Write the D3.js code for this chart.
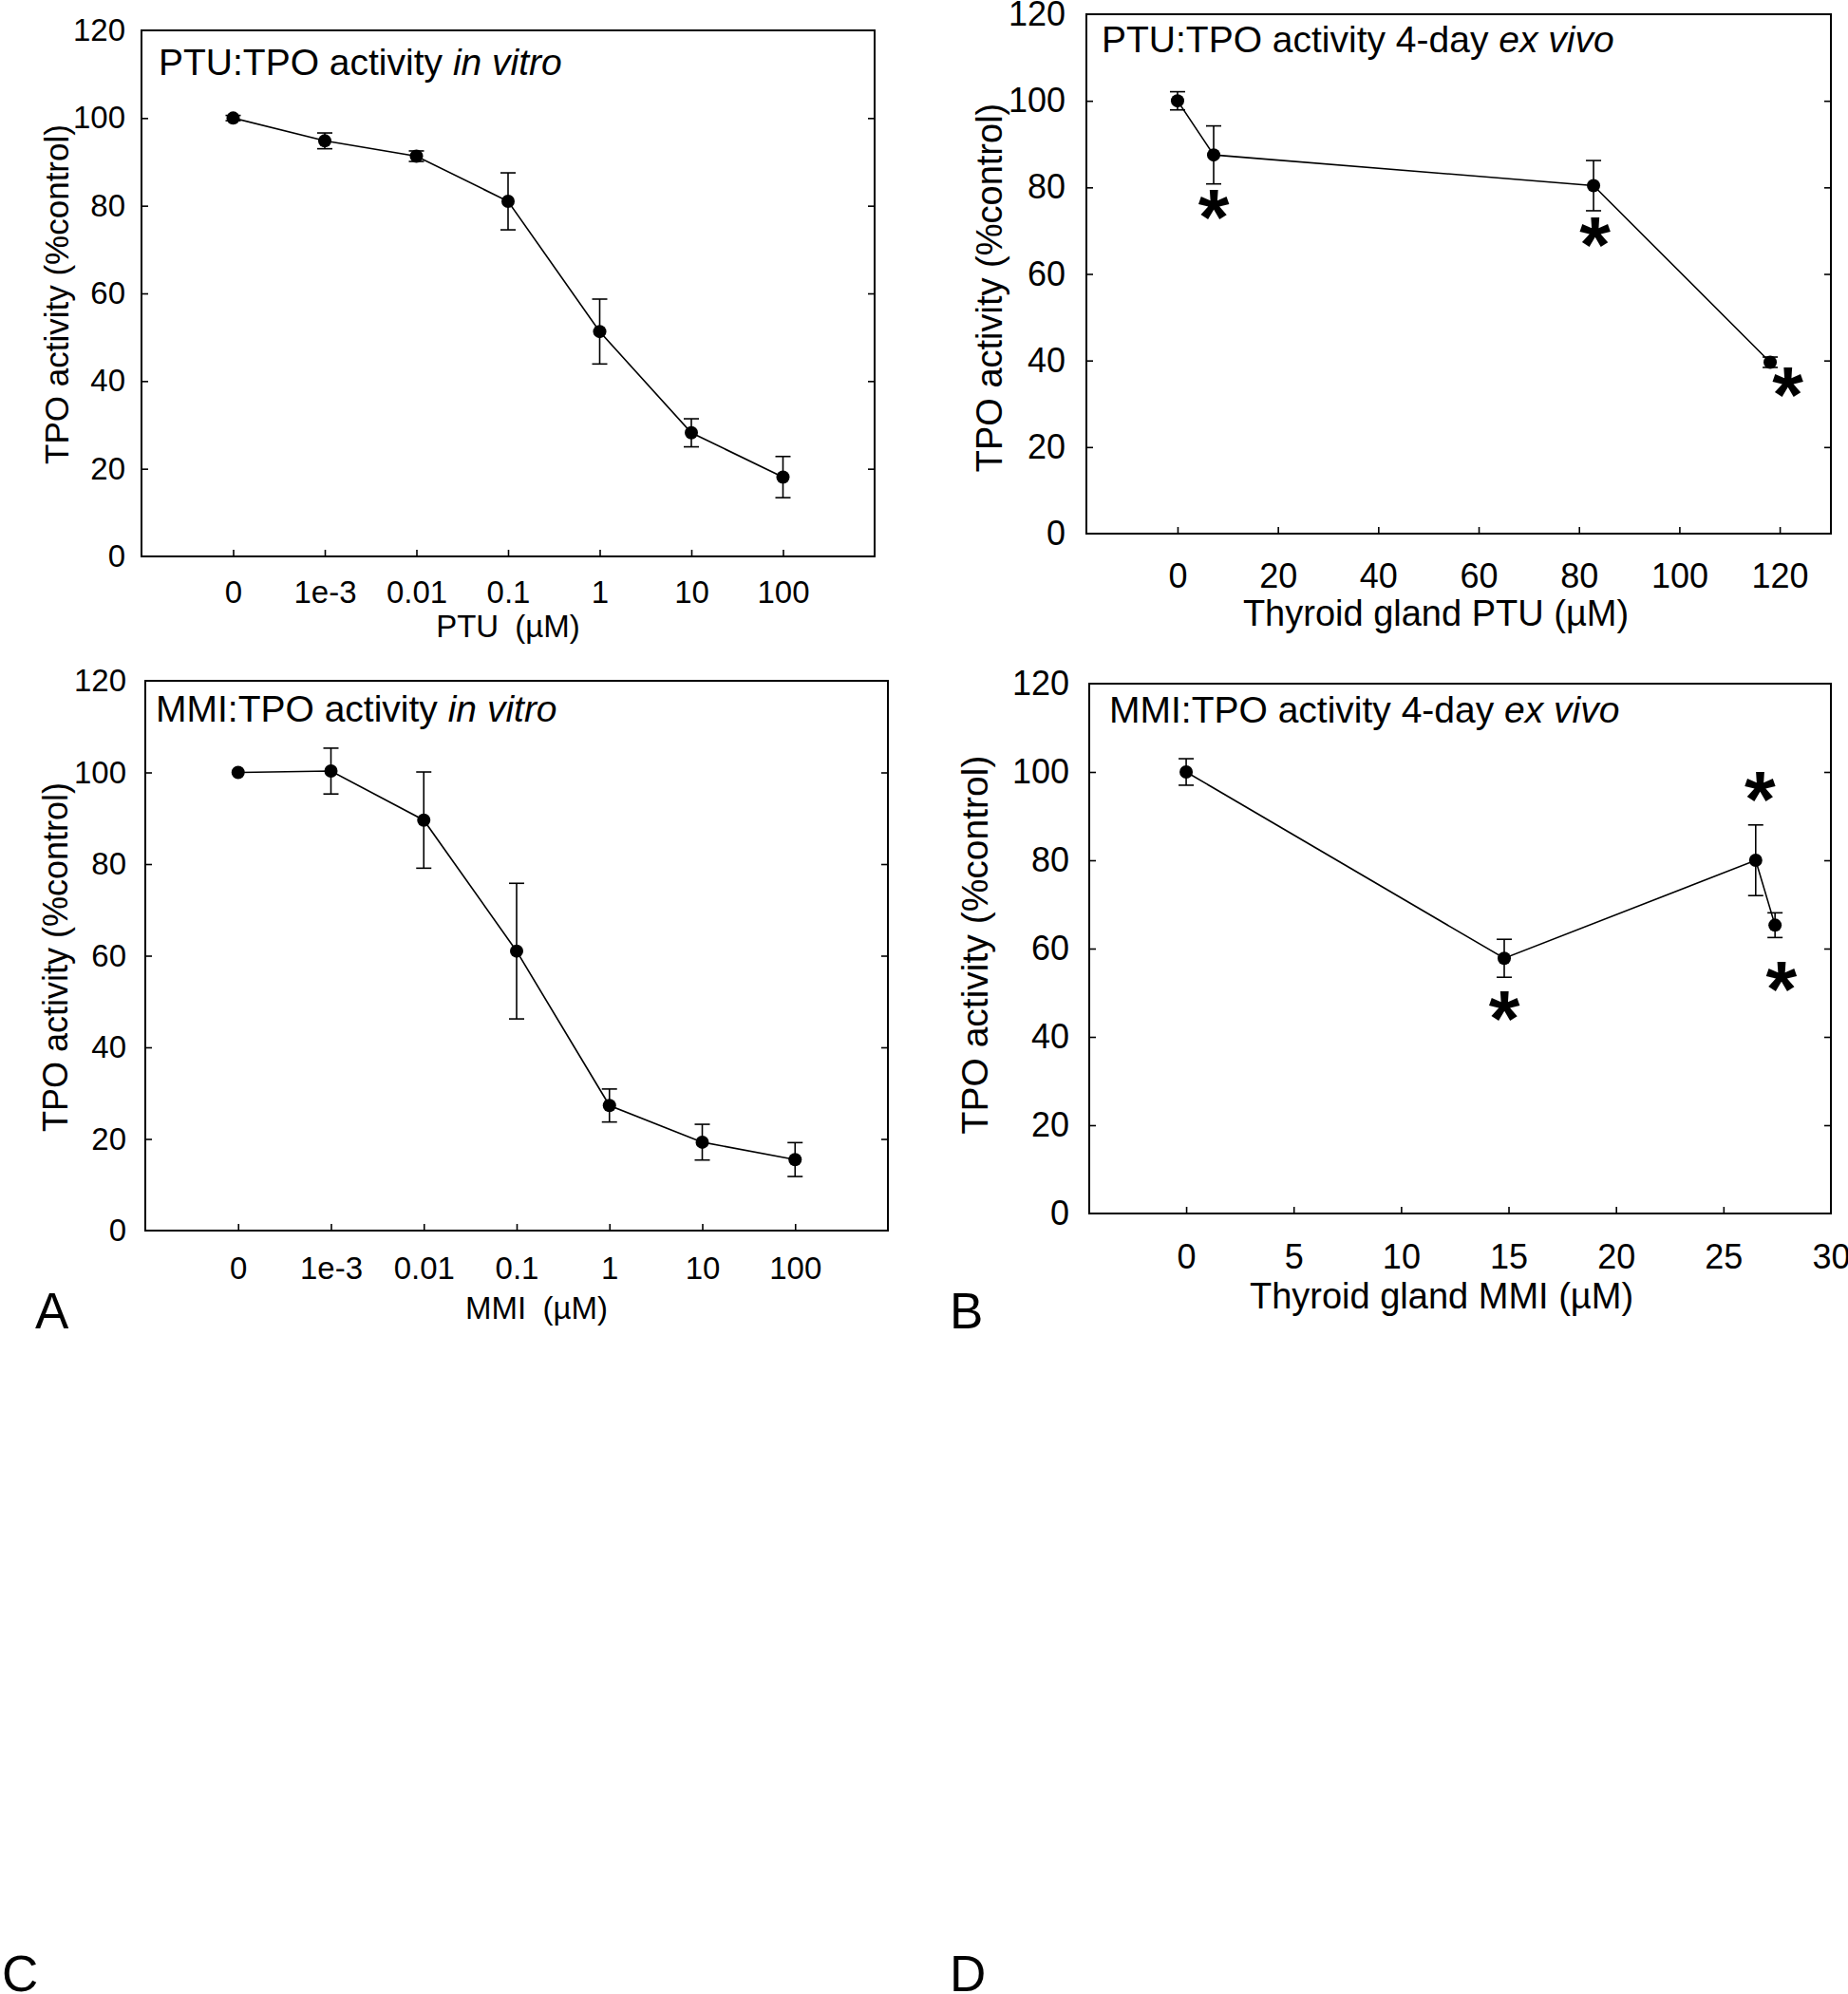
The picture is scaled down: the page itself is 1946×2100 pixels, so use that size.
<!DOCTYPE html>
<html>
<head>
<meta charset="utf-8">
<script src="https://cdn.jsdelivr.net/npm/d3@7"></script>
<style>
  body { margin: 0; background: #fff; }
  text { font-family: "Liberation Sans", Arial, sans-serif; fill: #000; }
</style>
</head>
<body>
<script>
// --- data ---
const concLabels = ["0", "1e-3", "0.01", "0.1", "1", "10", "100"];
const yTicks = [0, 20, 40, 60, 80, 100, 120];

// A: PTU in vitro
const ptuVitroMean = [100, 94.8, 91.3, 81.0, 51.3, 28.2, 18.1];
const ptuVitroErr = [0.6, 1.8, 1.2, 6.5, 7.4, 3.2, 4.7];

// C: MMI in vitro
const mmiVitroMean = [100, 100.3, 89.6, 61.0, 27.3, 19.3, 15.5];
const mmiVitroErr = [0, 5.0, 10.5, 14.8, 3.6, 3.9, 3.7];

// B: PTU ex vivo
const ptuGland = [0, 7.2, 82.9, 118.1];
const ptuExMean = [100, 87.5, 80.4, 39.6];
const ptuExErr = [2.1, 6.7, 5.8, 1.2];
const ptuStarX = [7.2, 83.2, 121.6];
const ptuStarY = [77.2, 70.9, 36.2];
const ptuGlandTicks = [0, 20, 40, 60, 80, 100, 120];

// D: MMI ex vivo
const mmiGland = [0, 14.8, 26.5, 27.4];
const mmiExMean = [100, 57.8, 80.0, 65.3];
const mmiExErr = [3.0, 4.3, 8.0, 2.8];
const mmiStarX = [14.8, 26.7, 27.7];
const mmiStarY = [48.1, 97.8, 54.8];
const mmiGlandTicks = [0, 5, 10, 15, 20, 25, 30];

const W = 1946, H = 2100;
const svg = d3.select("body").append("svg")
    .attr("width", W).attr("height", H);

svg.append("rect").attr("width", W).attr("height", H).attr("fill", "#fff");

function drawPanel(p) {
    const g = svg.append("g");
    var x;
    if (p.cats) {
        x = d3.scalePoint().domain(p.cats).range([p.left, p.right]).padding(1);
    } else {
        x = d3.scaleLinear().domain(p.xDomain).range([p.left, p.right]);
    }
    const y = d3.scaleLinear().domain([0, 120]).range([p.bottom, p.top]);

    // y axis left (ticks inside)
    const ya = g.append("g").attr("transform", "translate(" + p.left + ",0)")
        .call(d3.axisLeft(y).tickValues(yTicks).tickSize(-7).tickSizeOuter(0).tickPadding(p.yPad));
    // right ticks only
    const yr = g.append("g").attr("transform", "translate(" + p.right + ",0)")
        .call(d3.axisRight(y).tickValues(yTicks.slice(1, -1)).tickSize(-7).tickSizeOuter(0).tickFormat(""));
    // bottom
    const xa = g.append("g").attr("transform", "translate(0," + p.bottom + ")")
        .call((p.cats ? d3.axisBottom(x) : d3.axisBottom(x).tickValues(p.xTicks))
            .tickSize(-7).tickSizeOuter(0).tickPadding(p.xPad));

    [ya, yr, xa].forEach(a => {
        a.select(".domain").remove();
        a.selectAll("line").attr("stroke", "#000").attr("stroke-width", 1.6);
        a.selectAll("text").attr("font-family", "'Liberation Sans', Arial, sans-serif")
            .attr("font-size", p.tickFs).attr("fill", "#000");
    });
    ya.selectAll(".tick").filter(d => d === 0 || d === 120).select("line").remove();
    xa.selectAll(".tick").filter(d => !p.cats && (x(d) >= p.right - 1)).select("line").remove();

    // frame
    g.append("rect")
        .attr("x", p.left).attr("y", p.top)
        .attr("width", p.right - p.left).attr("height", p.bottom - p.top)
        .attr("fill", "none").attr("stroke", "#000").attr("stroke-width", 2);

    const rows = p.xs.map((xv, i) => ({ x: xv, m: p.mean[i], e: p.err[i] }));

    // connecting line
    g.append("path").datum(rows)
        .attr("fill", "none").attr("stroke", "#000").attr("stroke-width", 1.6)
        .attr("d", d3.line().x(d => x(d.x)).y(d => y(d.m)));

    // error bars
    const eb = g.selectAll(".eb").data(rows.filter(d => d.e > 0)).enter().append("g")
        .attr("stroke", "#000").attr("stroke-width", 1.6);
    eb.append("line").attr("x1", d => x(d.x)).attr("x2", d => x(d.x))
        .attr("y1", d => y(d.m - d.e)).attr("y2", d => y(d.m + d.e));
    eb.append("line").attr("x1", d => x(d.x) - 8).attr("x2", d => x(d.x) + 8)
        .attr("y1", d => y(d.m + d.e)).attr("y2", d => y(d.m + d.e));
    eb.append("line").attr("x1", d => x(d.x) - 8).attr("x2", d => x(d.x) + 8)
        .attr("y1", d => y(d.m - d.e)).attr("y2", d => y(d.m - d.e));

    // points
    g.selectAll("circle").data(rows).enter().append("circle")
        .attr("cx", d => x(d.x)).attr("cy", d => y(d.m)).attr("r", 7).attr("fill", "#000");

    // significance asterisks
    if (p.starX) {
        var fs = 84;
        p.starX.forEach((sx, i) => {
            g.append("text").attr("x", x(sx)).attr("y", y(p.starY[i]) + 0.57 * fs)
                .attr("text-anchor", "middle").attr("font-size", fs).attr("font-weight", "bold")
                .text("*");
        });
    }

    // title
    const t = g.append("text").attr("x", p.titleX).attr("y", p.titleY).attr("font-size", 39);
    t.append("tspan").text(p.title[0]);
    t.append("tspan").attr("font-style", "italic").text(p.title[1]);

    // axis labels
    g.append("text").attr("x", p.xLabelX).attr("y", p.xLabelY)
        .attr("text-anchor", "middle").attr("font-size", p.xLabelFs)
        .attr("word-spacing", p.wordSpacing || 0)
        .text(p.xLabel);
    g.append("text")
        .attr("transform", "translate(" + p.yLabelX + "," + p.yLabelY + ") rotate(-90)")
        .attr("text-anchor", "middle").attr("font-size", p.yLabelFs)
        .text("TPO activity (%control)");
}

drawPanel({
    left: 149, right: 921, top: 32, bottom: 586,
    cats: concLabels, xs: concLabels, mean: ptuVitroMean, err: ptuVitroErr,
    tickFs: 33, yPad: 17, xPad: 26,
    title: ["PTU:TPO activity ", "in vitro"], titleX: 167, titleY: 79,
    xLabel: "PTU (µM)", xLabelX: 535, xLabelY: 671, xLabelFs: 33, wordSpacing: 8,
    yLabelX: 72, yLabelY: 310, yLabelFs: 35
});

drawPanel({
    left: 1144, right: 1928, top: 15, bottom: 562,
    xDomain: [-18.16, 130.2], xTicks: ptuGlandTicks,
    xs: ptuGland, mean: ptuExMean, err: ptuExErr, starX: ptuStarX, starY: ptuStarY,
    tickFs: 36, yPad: 22, xPad: 31,
    title: ["PTU:TPO activity 4-day ", "ex vivo"], titleX: 1160, titleY: 55,
    xLabel: "Thyroid gland PTU (µM)", xLabelX: 1512, xLabelY: 659, xLabelFs: 38,
    yLabelX: 1055, yLabelY: 303, yLabelFs: 38
});

drawPanel({
    left: 153, right: 935, top: 717, bottom: 1296,
    cats: concLabels, xs: concLabels, mean: mmiVitroMean, err: mmiVitroErr,
    tickFs: 33, yPad: 20, xPad: 28,
    title: ["MMI:TPO activity ", "in vitro"], titleX: 164, titleY: 760,
    xLabel: "MMI (µM)", xLabelX: 565, xLabelY: 1389, xLabelFs: 33, wordSpacing: 8,
    yLabelX: 71, yLabelY: 1008, yLabelFs: 36
});

drawPanel({
    left: 1147, right: 1928, top: 720, bottom: 1278,
    xDomain: [-4.51, 30], xTicks: mmiGlandTicks,
    xs: mmiGland, mean: mmiExMean, err: mmiExErr, starX: mmiStarX, starY: mmiStarY,
    tickFs: 36, yPad: 21, xPad: 32,
    title: ["MMI:TPO activity 4-day ", "ex vivo"], titleX: 1168, titleY: 761,
    xLabel: "Thyroid gland MMI (µM)", xLabelX: 1518, xLabelY: 1378, xLabelFs: 38,
    yLabelX: 1040, yLabelY: 995, yLabelFs: 39
});

// panel letters
const letters = [["A", 37, 1399], ["B", 1000, 1399], ["C", 2, 2097], ["D", 1000, 2097]];
svg.selectAll(".letter").data(letters).enter().append("text")
    .attr("class", "letter")
    .attr("x", d => d[1]).attr("y", d => d[2])
    .attr("font-size", 53)
    .text(d => d[0]);
</script>
</body>
</html>
